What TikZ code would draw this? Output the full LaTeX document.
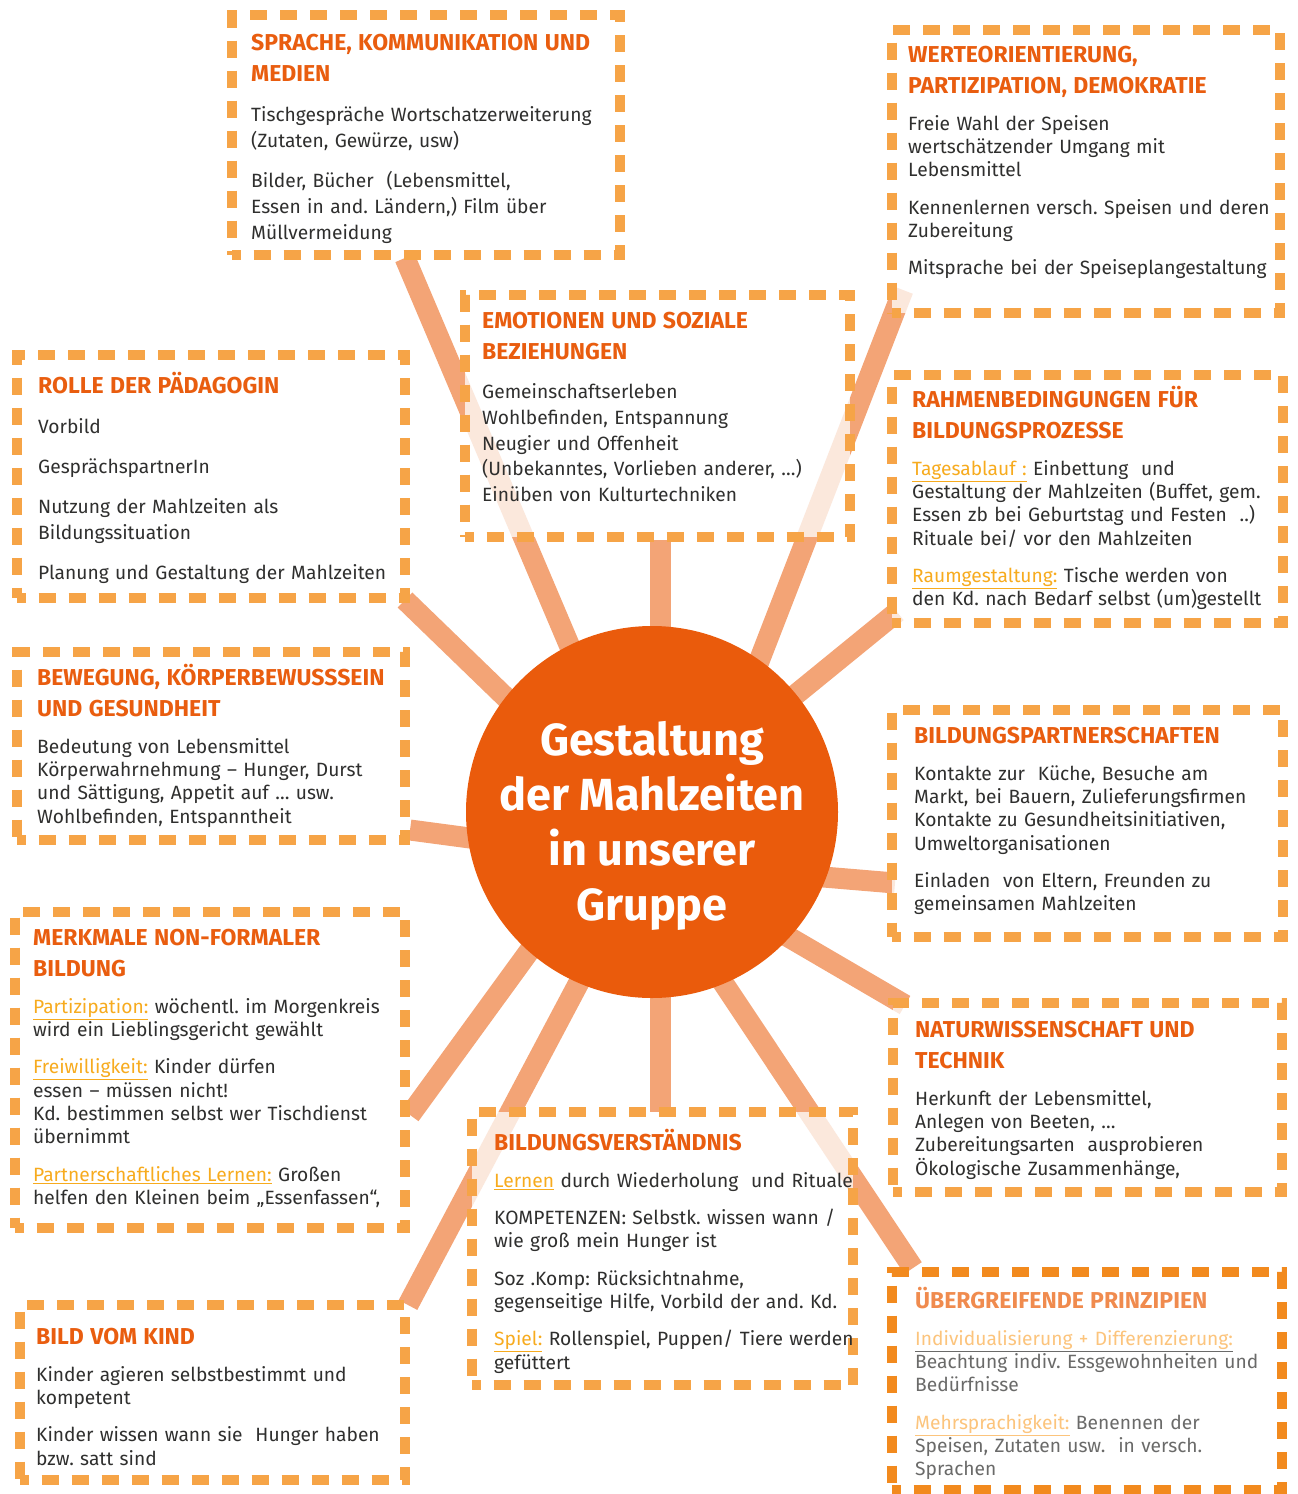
\documentclass[tikz,border=0pt]{standalone}
\usepackage{fontspec}
\setmainfont{Fira Sans}
\usetikzlibrary{backgrounds}

\definecolor{dashc}{HTML}{F6A447}
\definecolor{dashdk}{HTML}{F28A1E}
\definecolor{headc}{HTML}{E95D0F}
\definecolor{headlt}{HTML}{F08B4E}
\definecolor{bodyc}{HTML}{2F2F2E}
\definecolor{bodylt}{HTML}{6A6A69}
\definecolor{keyc}{HTML}{F7AB1E}
\definecolor{keylt}{HTML}{FCC47C}
\definecolor{hubc}{HTML}{EA5B0C}
\definecolor{rayc}{HTML}{EE7D3C}

\newcommand{\dashW}{10pt}
\newcommand{\rayW }{21pt}
\newcommand{\paraGap}{14pt}

\newcommand{\boxhead}[2][headc]{{\fontsize{23}{31}\selectfont\bfseries\textcolor{#1}{#2}\par}\vspace{\paraGap}}
\newcommand{\pgap}{\par\vspace{\paraGap}}
\newcommand{\keyw}[2][keyc]{\textcolor{#1}{\underline{#2}}}

\frenchspacing

\begin{document}
\begin{tikzpicture}[x=1pt, y=-1pt,
    dbox/.style={draw=dashc, line width=\dashW, dash pattern=on 17pt off 13pt, dash phase=8.5pt,
                 fill=white, fill opacity=0.75, anchor=north west, inner sep=0pt, outer sep=0pt},
    txt/.style={anchor=base west, inner sep=0pt, text width=390pt, align=left,
                text=bodyc, font=\fontsize{19.2}{23.3}\selectfont},
    ray/.style={line width=\rayW, draw=rayc, draw opacity=0.7}]

  \useasboundingbox (0,0) rectangle (1298,1494);

  % Boxes:
  \node[dbox, minimum width=388, minimum height=240] (sprache)   at (232,15)   {};
  \node[dbox, minimum width=388, minimum height=283] (werte)     at (892,30)   {};
  \node[dbox, minimum width=388, minimum height=243] (rolle)     at (17,355)   {};
  \node[dbox, minimum width=385, minimum height=242] (emotion)   at (465,295)  {};
  \node[dbox, minimum width=391, minimum height=248] (rahmen)    at (892,375)  {};
  \node[dbox, minimum width=388, minimum height=188] (bewegung)  at (17,652)   {};
  \node[dbox, minimum width=391, minimum height=227] (partner)   at (892,710)  {};
  \node[dbox, minimum width=390, minimum height=316] (merkmale)  at (15,912)   {};
  \node[dbox, minimum width=389, minimum height=189] (natur)     at (893,1003) {};
  \node[dbox, minimum width=381, minimum height=273] (verstand)  at (472,1112) {};
  \node[dbox, minimum width=385, minimum height=175] (kind)      at (20,1305)  {};
  \node[dbox, draw=dashdk, minimum width=390, minimum height=218] (prinzip) at (892,1272) {};

  % Hub:
  \node[circle, fill=hubc, minimum size=372pt, inner sep=0pt] (hub) at (652,812) {};
  \node[align=center, text=white, font=\fontsize{45}{55}\selectfont\bfseries] (title)
    at (652,826) {Gestaltung\\der Mahlzeiten\\in unserer\\Gruppe};

  % Rays:
  \coordinate (r1a)  at (601,720);  \coordinate (r1b)  at (405,258);
  \coordinate (r2a)  at (660,700);  \coordinate (r2b)  at (660,540);
  \coordinate (r3a)  at (744,700);  \coordinate (r3b)  at (903,290);
  \coordinate (r4a)  at (560,750);  \coordinate (r4b)  at (405,600);
  \coordinate (r5a)  at (740,740);  \coordinate (r5b)  at (897,612);
  \coordinate (r6a)  at (560,850);  \coordinate (r6b)  at (410,830);
  \coordinate (r7a)  at (740,870);  \coordinate (r7b)  at (895,883);
  \coordinate (r8a)  at (581,880);  \coordinate (r8b)  at (410,1115);
  \coordinate (r9a)  at (720,897);  \coordinate (r9b)  at (905,1005);
  \coordinate (r10a) at (660,900);  \coordinate (r10b) at (660,1112);
  \coordinate (r11a) at (620,905);  \coordinate (r11b) at (408,1305);
  \coordinate (r12a) at (688,930);  \coordinate (r12b) at (913,1268);
  \begin{pgfonlayer}{background}
    \foreach \r in {1,...,12}
      \draw[ray] (r\r a) -- (r\r b);
  \end{pgfonlayer}

  % Texts:
  \node[txt, font=\fontsize{19.2}{26}\selectfont] (spracheT) at (251,50) {%
    \boxhead{SPRACHE, KOMMUNIKATION UND\\MEDIEN}
    Tischgespräche Wortschatzerweiterung\\(Zutaten, Gewürze, usw)\pgap
    Bilder, Bücher\ \ (Lebensmittel,\\Essen in and. Ländern,) Film über\\Müllvermeidung};

  \node[txt] (werteT) at (908,62) {%
    \boxhead{WERTEORIENTIERUNG,\\PARTIZIPATION, DEMOKRATIE}
    Freie Wahl der Speisen\\wertschätzender Umgang mit\\Lebensmittel\pgap
    Kennenlernen versch. Speisen und deren\\Zubereitung\pgap
    Mitsprache bei der Speiseplangestaltung};

  \node[txt, font=\fontsize{19.2}{26}\selectfont] (rolleT) at (38,393) {%
    \boxhead{ROLLE DER PÄDAGOGIN}
    Vorbild\pgap
    GesprächspartnerIn\pgap
    Nutzung der Mahlzeiten als\\Bildungssituation\pgap
    Planung und Gestaltung der Mahlzeiten};

  \node[txt, font=\fontsize{19.2}{25.7}\selectfont] (emotionT) at (482,328) {%
    \boxhead{EMOTIONEN UND SOZIALE\\BEZIEHUNGEN}
    Gemeinschaftserleben\\Wohlbefinden, Entspannung\\Neugier und Offenheit\\(Unbekanntes, Vorlieben anderer, …)\\Einüben von Kulturtechniken};

  \node[txt] (rahmenT) at (912,407) {%
    \boxhead{RAHMENBEDINGUNGEN FÜR\\BILDUNGSPROZESSE}
    \keyw{Tagesablauf :} Einbettung\ \ und\\Gestaltung der Mahlzeiten (Buffet, gem.\\Essen zb bei Geburtstag und Festen\ \ ..)\\Rituale bei/ vor den Mahlzeiten\pgap
    \keyw{Raumgestaltung:} Tische werden von\\den Kd. nach Bedarf selbst (um)gestellt};

  \node[txt] (bewegungT) at (37,685) {%
    \boxhead{BEWEGUNG, KÖRPERBEWUSSSEIN\\UND GESUNDHEIT}
    Bedeutung von Lebensmittel\\Körperwahrnehmung – Hunger, Durst\\und Sättigung, Appetit auf … usw.\\Wohlbefinden, Entspanntheit};

  \node[txt] (partnerT) at (914,743) {%
    \boxhead{BILDUNGSPARTNERSCHAFTEN}
    Kontakte zur\ \ Küche, Besuche am\\Markt, bei Bauern, Zulieferungsfirmen\\Kontakte zu Gesundheitsinitiativen,\\Umweltorganisationen\pgap
    Einladen\ \ von Eltern, Freunden zu\\gemeinsamen Mahlzeiten};

  \node[txt] (merkmaleT) at (33,945) {%
    \boxhead{MERKMALE NON-FORMALER\\BILDUNG}
    \keyw{Partizipation:} wöchentl. im Morgenkreis\\wird ein Lieblingsgericht gewählt\pgap
    \keyw{Freiwilligkeit:} Kinder dürfen\\essen – müssen nicht!\\Kd. bestimmen selbst wer Tischdienst\\übernimmt\pgap
    \keyw{Partnerschaftliches Lernen:} Großen\\helfen den Kleinen beim „Essenfassen“,};

  \node[txt] (naturT) at (915,1037) {%
    \boxhead{NATURWISSENSCHAFT UND\\TECHNIK}
    Herkunft der Lebensmittel,\\Anlegen von Beeten, …\\Zubereitungsarten\ \ ausprobieren\\Ökologische Zusammenhänge,};

  \node[txt] (verstandT) at (494,1150) {%
    \boxhead{BILDUNGSVERSTÄNDNIS}
    \keyw{Lernen} durch Wiederholung\ \ und Rituale\pgap
    KOMPETENZEN: Selbstk. wissen wann /\\wie groß mein Hunger ist\pgap
    Soz .Komp: Rücksichtnahme,\\gegenseitige Hilfe, Vorbild der and. Kd.\pgap
    \keyw{Spiel:} Rollenspiel, Puppen/ Tiere werden\\gefüttert};

  \node[txt] (kindT) at (36,1344) {%
    \boxhead{BILD VOM KIND}
    Kinder agieren selbstbestimmt und\\kompetent\pgap
    Kinder wissen wann sie\ \ Hunger haben\\bzw. satt sind};

  \node[txt, text=bodylt] (prinzipT) at (915,1308) {%
    \boxhead[headlt]{ÜBERGREIFENDE PRINZIPIEN}
    \underline{\textcolor{keylt}{Individualisierung + Differenzierung:}}\\Beachtung indiv. Essgewohnheiten und\\Bedürfnisse\pgap
    \keyw[keylt]{Mehrsprachigkeit:} Benennen der\\Speisen, Zutaten usw.\ \ in versch.\\Sprachen};

\end{tikzpicture}
\end{document}
